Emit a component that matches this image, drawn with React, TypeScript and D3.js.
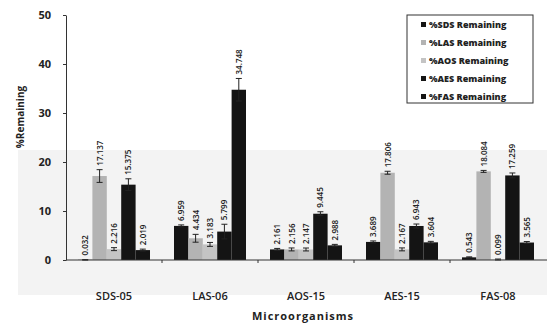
import React, { useRef, useEffect } from 'react';
import * as d3 from 'd3';

const categories = ['SDS-05', 'LAS-06', 'AOS-15', 'AES-15', 'FAS-08'];
const seriesNames = ['%SDS Remaining', '%LAS Remaining', '%AOS Remaining', '%AES Remaining', '%FAS Remaining'];

const sdsValues = [0.032, 6.959, 2.161, 3.689, 0.543];
const lasValues = [17.137, 4.434, 2.156, 17.806, 18.084];
const aosValues = [2.216, 3.183, 2.147, 2.167, 0.099];
const aesValues = [15.375, 5.799, 9.445, 6.943, 17.259];
const fasValues = [2.019, 34.748, 2.988, 3.604, 3.565];

const sdsErr = [0.05, 0.2, 0.2, 0.2, 0.1];
const lasErr = [1.3, 0.8, 0.3, 0.3, 0.2];
const aosErr = [0.3, 0.4, 0.3, 0.3, 0.1];
const aesErr = [1.2, 1.5, 0.4, 0.4, 0.5];
const fasErr = [0.2, 2.3, 0.2, 0.2, 0.2];

const yTicks = [0, 10, 20, 30, 40, 50];

const colors = ['#141414', '#b3b3b3', '#c4c4c4', '#141414', '#141414'];

const W = 547;
const H = 325;
const FONT = '"Open Sans", Lato, sans-serif';

const App = () => {
  const ref = useRef<SVGSVGElement>(null);

  useEffect(() => {
    const values = [sdsValues, lasValues, aosValues, aesValues, fasValues];
    const errors = [sdsErr, lasErr, aosErr, aesErr, fasErr];
    const margin = { top: 15, right: 1, bottom: 60, left: 66 };

    const x = d3.scaleBand()
      .domain(categories)
      .range([margin.left, W - margin.right])
      .paddingInner(0.25)
      .paddingOuter(0.125);

    const xs = d3.scaleBand()
      .domain(seriesNames)
      .range([0, x.bandwidth()]);

    const y = d3.scaleLinear()
      .domain([0, 50])
      .range([H - margin.bottom - 5, margin.top]);

    const svg = d3.select(ref.current);
    svg.selectAll('*').remove();

    // faint scan shading
    svg.append('rect')
      .attr('x', 18).attr('y', 150)
      .attr('width', W - 18).attr('height', 145)
      .attr('fill', '#f3f3f3');

    const rows = categories.flatMap((c, ci) =>
      seriesNames.map((s, si) => ({ c, s, si, v: values[si][ci], e: errors[si][ci] })));

    svg.append('g')
      .selectAll('rect')
      .data(rows)
      .join('rect')
      .attr('x', d => x(d.c)! + xs(d.s)!)
      .attr('y', d => y(d.v))
      .attr('width', xs.bandwidth())
      .attr('height', d => y(0) - y(d.v))
      .attr('fill', d => colors[d.si]);

    // error bars
    const eg = svg.append('g').attr('stroke', '#222').attr('stroke-width', 1);
    rows.forEach(d => {
      const cx = x(d.c)! + xs(d.s)! + xs.bandwidth() / 2;
      eg.append('line').attr('x1', cx).attr('x2', cx).attr('y1', y(d.v - d.e)).attr('y2', y(d.v + d.e));
      eg.append('line').attr('x1', cx - 3).attr('x2', cx + 3).attr('y1', y(d.v + d.e)).attr('y2', y(d.v + d.e));
      eg.append('line').attr('x1', cx - 3).attr('x2', cx + 3).attr('y1', y(d.v - d.e)).attr('y2', y(d.v - d.e));
    });

    // value labels
    svg.append('g')
      .selectAll('text')
      .data(rows)
      .join('text')
      .attr('transform', d => {
        const cx = x(d.c)! + xs(d.s)! + xs.bandwidth() / 2 + 3;
        return `translate(${cx},${y(d.v + d.e) - 4}) rotate(-90)`;
      })
      .attr('font-family', FONT)
      .attr('font-weight', 600)
      .attr('font-size', 8)
      .attr('fill', '#222')
      .text(d => d.v.toFixed(3));

    // y axis
    const yAxis = svg.append('g')
      .attr('transform', `translate(${margin.left},0)`)
      .call(d3.axisLeft(y).tickValues(yTicks).tickSize(3).tickPadding(12).tickSizeOuter(0));
    yAxis.select('.domain').attr('stroke', '#333');
    yAxis.selectAll('line').attr('stroke', '#333');
    yAxis.selectAll('text')
      .attr('font-family', FONT)
      .attr('font-weight', 700)
      .attr('font-size', 11)
      .attr('fill', '#222');

    // x axis
    const boundaries = categories.slice(1).map(c => x(c)! - (x.step() - x.bandwidth()) / 2);
    const xa = svg.append('g');
    xa.append('line')
      .attr('x1', margin.left).attr('x2', W)
      .attr('y1', y(0)).attr('y2', y(0))
      .attr('stroke', '#333');
    xa.selectAll('line.tk')
      .data(boundaries)
      .join('line')
      .attr('class', 'tk')
      .attr('x1', d => d).attr('x2', d => d)
      .attr('y1', y(0)).attr('y2', y(0) + 3)
      .attr('stroke', '#333');
    xa.selectAll('text')
      .data(categories)
      .join('text')
      .attr('x', d => x(d)! + x.bandwidth() / 2)
      .attr('y', 300)
      .attr('text-anchor', 'middle')
      .attr('font-family', FONT)
      .attr('font-weight', 600)
      .attr('font-size', 11)
      .attr('fill', '#222')
      .text(d => d);

    // axis titles
    svg.append('text')
      .attr('transform', 'translate(24,117) rotate(-90)')
      .attr('text-anchor', 'middle')
      .attr('font-family', FONT)
      .attr('font-weight', 700)
      .attr('font-size', 10)
      .attr('fill', '#222')
      .text('%Remaining');

    svg.append('text')
      .attr('x', 303).attr('y', 320)
      .attr('text-anchor', 'middle')
      .attr('font-family', FONT)
      .attr('font-weight', 700)
      .attr('font-size', 11)
      .attr('letter-spacing', 1)
      .attr('fill', '#222')
      .text('Microorganisms');

    // legend
    const lg = svg.append('g').attr('transform', 'translate(407,15)');
    lg.append('rect')
      .attr('width', 126).attr('height', 88)
      .attr('fill', '#fff').attr('stroke', '#333');
    const items = lg.selectAll('g')
      .data(seriesNames)
      .join('g')
      .attr('transform', (d, i) => `translate(0,${10 + i * 18})`);
    items.append('rect')
      .attr('x', 14).attr('y', -3)
      .attr('width', 5).attr('height', 5)
      .attr('fill', (d, i) => colors[i]);
    items.append('text')
      .attr('x', 22).attr('y', 3)
      .attr('font-family', FONT)
      .attr('font-weight', 800)
      .attr('font-size', 9)
      .attr('fill', '#222')
      .text(d => d);
  }, []);

  return (
    <svg ref={ref} width={W} height={H}
      style={{ position: 'absolute', left: 0, top: 0, background: '#fff' }} />
  );
};

export default App;
